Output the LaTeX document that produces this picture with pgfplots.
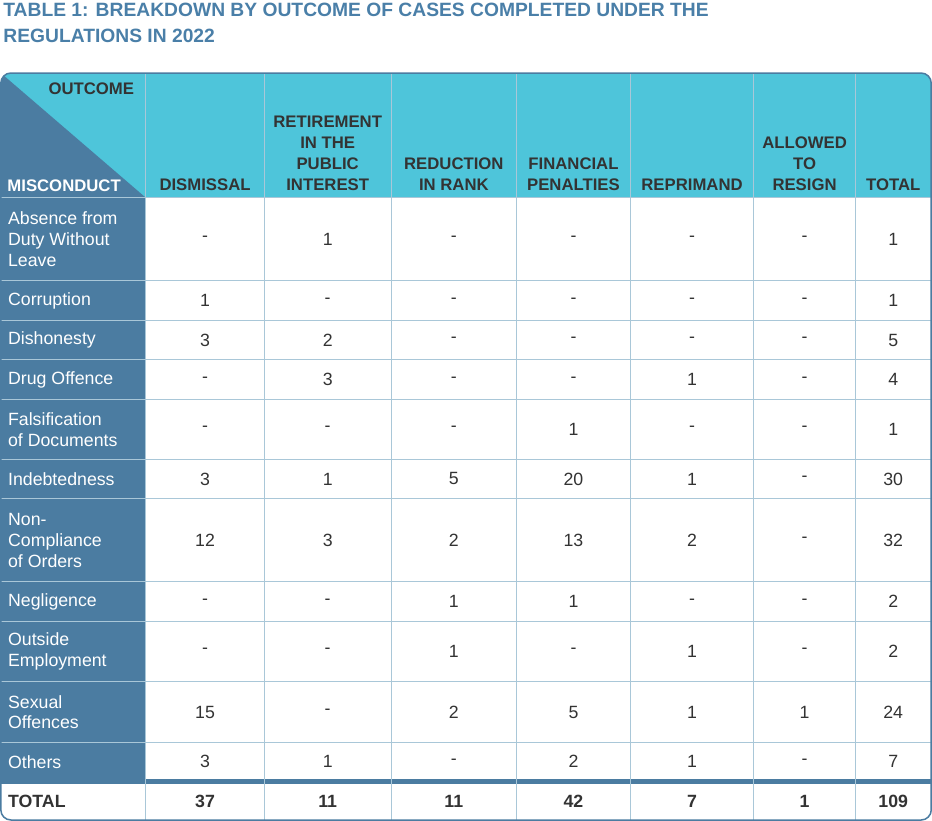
\documentclass[border=0pt]{standalone}
\usepackage{pgfplots}
\pgfplotsset{compat=1.18}
\usepackage{fontspec}
\setmainfont{Liberation Sans}
\definecolor{ttl}{HTML}{4A7FA8}
\definecolor{cyn}{HTML}{4EC5DA}
\definecolor{dkb}{HTML}{4B7CA1}
\definecolor{grd}{HTML}{A9C7D8}
\definecolor{txt}{HTML}{333333}
\begin{document}
\begin{tikzpicture}
\begin{scope}[x=1pt, y=-1pt, yshift=821pt]
\node[anchor=west, text=ttl, font=\fontsize{19}{22}\selectfont\bfseries] at (6,18) {TABLE 1: BREAKDOWN BY OUTCOME OF CASES COMPLETED UNDER THE};
\node[anchor=west, text=ttl, font=\fontsize{19}{22}\selectfont\bfseries] at (6,43) {REGULATIONS IN 2022};
\fill[white, rounded corners=10pt] (7,80) rectangle (925,817);
\begin{scope}
\clip[rounded corners=10pt] (7,80) rectangle (925,817);
\fill[cyn] (7,80) rectangle (925,203);
\fill[dkb] (7,203) rectangle (150,778);
\fill[dkb] (7,80) -- (150,203) -- (7,203) -- cycle;
\fill[dkb] (7,777) rectangle (925,781);
\end{scope}
\foreach \yy in {285,324,363,402,461,500,582,621,680,741}{
 \draw[grd, line width=1pt] (7,\yy) -- (925,\yy);}
\draw[grd, line width=1pt] (7,203) -- (925,203);
\foreach \xx in {150,267,392,516,628,750,850}{
 \draw[grd, line width=1pt] (\xx,80) -- (\xx,817);}
\draw[dkb, line width=1.5pt, rounded corners=10pt] (7,80) rectangle (925,817);
\node[anchor=north east, font=\fontsize{16.5}{20}\selectfont\bfseries, text=txt] at (142,86) {OUTCOME};
\node[anchor=south west, font=\fontsize{16.5}{20}\selectfont\bfseries, text=white] at (10,201) {MISCONDUCT};
\foreach \cx/\lab in {208.5/DISMISSAL,329.5/{RETIREMENT\\IN THE\\PUBLIC\\INTEREST},454/{REDUCTION\\IN RANK},572/{FINANCIAL\\PENALTIES},689/REPRIMAND,800/{ALLOWED\\TO\\RESIGN},887.5/TOTAL}{
 \node[anchor=south, align=center, font=\fontsize{16.5}{20.5}\selectfont\bfseries, text=txt, inner sep=0pt] at (\cx,196) {\lab};}
\foreach \cy/\lab in {244/{Absence from\\Duty Without\\Leave},304.5/Corruption,343.5/Dishonesty,382.5/Drug Offence,431.5/{Falsification\\of Documents},480.5/Indebtedness,541/{Non-\\Compliance\\of Orders},601.5/Negligence,650.5/{Outside\\Employment},710.5/{Sexual\\Offences},759.5/Others}{
 \node[anchor=west, align=left, font=\fontsize{17.5}{20.5}\selectfont, text=white, inner sep=0pt] at (14,\cy) {\lab};}
\node[anchor=west, font=\fontsize{17.5}{20.5}\selectfont\bfseries, text=txt, inner sep=0pt] at (14,799) {TOTAL};
\end{scope}
\begin{axis}[at={(0,0)}, anchor=south west, scale only axis, width=932pt, height=821pt, xmin=0, xmax=932, ymin=0, ymax=821,
 y dir=reverse, axis lines=none, clip=false]
\addplot[only marks, mark=none, point meta=explicit symbolic,
 nodes near coords, nodes near coords style={anchor=center, text=txt, font=\fontsize{17.5}{20}\selectfont}] coordinates {
(208.5,244)[-] (329.5,244)[1] (454,244)[-] (572,244)[-] (689,244)[-] (800,244)[-] (887.5,244)[1]
(208.5,304.5)[1] (329.5,304.5)[-] (454,304.5)[-] (572,304.5)[-] (689,304.5)[-] (800,304.5)[-] (887.5,304.5)[1]
(208.5,343.5)[3] (329.5,343.5)[2] (454,343.5)[-] (572,343.5)[-] (689,343.5)[-] (800,343.5)[-] (887.5,343.5)[5]
(208.5,382.5)[-] (329.5,382.5)[3] (454,382.5)[-] (572,382.5)[-] (689,382.5)[1] (800,382.5)[-] (887.5,382.5)[4]
(208.5,431.5)[-] (329.5,431.5)[-] (454,431.5)[-] (572,431.5)[1] (689,431.5)[-] (800,431.5)[-] (887.5,431.5)[1]
(208.5,480.5)[3] (329.5,480.5)[1] (454,480.5)[5] (572,480.5)[20] (689,480.5)[1] (800,480.5)[-] (887.5,480.5)[30]
(208.5,541)[12] (329.5,541)[3] (454,541)[2] (572,541)[13] (689,541)[2] (800,541)[-] (887.5,541)[32]
(208.5,601.5)[-] (329.5,601.5)[-] (454,601.5)[1] (572,601.5)[1] (689,601.5)[-] (800,601.5)[-] (887.5,601.5)[2]
(208.5,650.5)[-] (329.5,650.5)[-] (454,650.5)[1] (572,650.5)[-] (689,650.5)[1] (800,650.5)[-] (887.5,650.5)[2]
(208.5,710.5)[15] (329.5,710.5)[-] (454,710.5)[2] (572,710.5)[5] (689,710.5)[1] (800,710.5)[1] (887.5,710.5)[24]
(208.5,759.5)[3] (329.5,759.5)[1] (454,759.5)[-] (572,759.5)[2] (689,759.5)[1] (800,759.5)[-] (887.5,759.5)[7]
};
\addplot[only marks, mark=none, point meta=explicit symbolic,
 nodes near coords, nodes near coords style={anchor=center, text=txt, font=\fontsize{17.5}{20}\selectfont\bfseries}] coordinates {
(208.5,799)[37] (329.5,799)[11] (454,799)[11] (572,799)[42] (689,799)[7] (800,799)[1] (887.5,799)[109]
};
\end{axis}
\end{tikzpicture}
\end{document}
